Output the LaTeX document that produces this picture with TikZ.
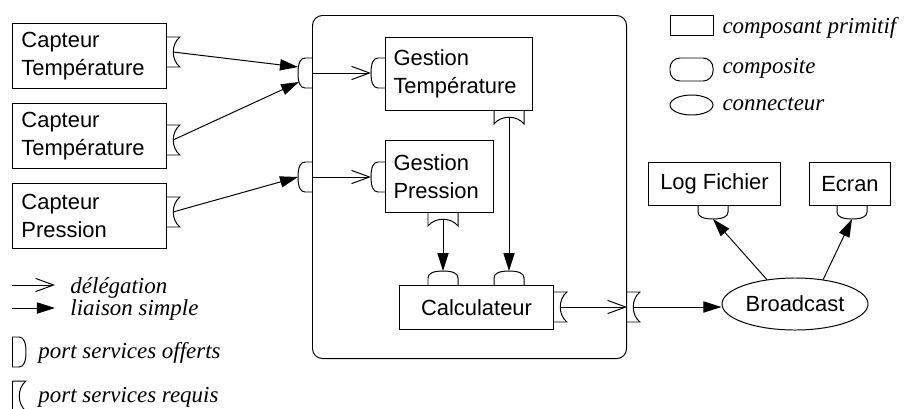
\documentclass[tikz,border=0pt]{standalone}
\usepackage{fontspec}
\setmainfont{Liberation Serif}
\setsansfont{Liberation Sans}
\usetikzlibrary{arrows.meta, shapes.geometric, calc}

\begin{document}
\begin{tikzpicture}[x=0.025cm, y=-0.025cm, line width=0.7pt,
    deleg/.style={-{Straight Barb[length=0.45cm, width=0.33cm]}},
    liaison/.style={-{Triangle[length=0.45cm, width=0.28cm]}},
    comp/.style={draw, rectangle, anchor=north west, inner xsep=0.2cm, inner ysep=0,
                 align=left, font=\sffamily\fontsize{15.6}{19.9}\selectfont},
    legende/.style={inner sep=0, anchor=base west, font=\rmfamily\itshape\fontsize{16.3}{19}\selectfont},
    requis/.pic={\draw (0,-15) -- (14,-15) .. controls (5,-8) and (5,8) .. (14,15) -- (0,15);
                 \coordinate (-tip) at (7,0);},
    offert/.pic={\draw (0,-15) -- (7,-15) .. controls (12,-15) and (14,-9) .. (14,0)
                 .. controls (14,9) and (12,15) .. (7,15) -- (0,15);
                 \coordinate (-tip) at (14,0);}]

    \useasboundingbox (0,0) rectangle (912,408);

    % ================= capteurs =================
    \node[comp, text width=3.4cm, inner xsep=0.225cm, minimum height=1.625cm] (ct1) at (12,23) {Capteur\\Température};
    \node[comp, text width=3.4cm, inner xsep=0.225cm, minimum height=1.625cm] (ct2) at (12,103) {Capteur\\Température};
    \node[comp, text width=3.4cm, inner xsep=0.225cm, minimum height=1.625cm] (ct3) at (12,183) {Capteur\\Pression};
    \pic (ct1p) at (166,52) {requis};
    \pic (ct2p) at (166,140) {requis};
    \pic (ct3p) at (166,212) {requis};

    % ================= composite =================
    \node[draw, rectangle, rounded corners=0.25cm, anchor=north west,
          minimum width=7.85cm, minimum height=8.575cm] (sys) at (312,15) {};
    \pic[rotate=180] (sysp1) at (312,73) {offert};
    \pic[rotate=180] (sysp2) at (312,177) {offert};
    \pic (sysr) at (626,307) {requis};

    % Gestion Temperature / Gestion Pression
    \node[comp, text width=3.275cm, minimum height=1.825cm] (gt) at (385,37) {Gestion\\Température};
    \node[comp, text width=2.3cm, minimum height=1.8cm] (gp) at (385,140) {Gestion\\Pression};
    \pic[rotate=180] (gtp) at (385,73) {offert};
    \pic[rotate=180] (gpp) at (385,177) {offert};
    \pic[rotate=-90] (gtr) at (509,110) {requis};
    \pic[rotate=-90] (gpr) at (443,212) {requis};

    % Calculateur
    \node[comp, align=center, minimum width=3.85cm, minimum height=1.1cm] (calc) at (399,285) {Calculateur};
    \pic[rotate=90] (calp1) at (443,285) {offert};
    \pic[rotate=90] (calp2) at (509,285) {offert};
    \pic (calr) at (553,307) {requis};

    % ================= sorties =================
    \node[draw, ellipse, minimum width=3.65cm, minimum height=1.3cm, inner sep=0,
          font=\sffamily\fontsize{15.6}{19.9}\selectfont] (bc) at (795,304) {Broadcast};
    \node[comp, align=center, minimum width=3.3cm, minimum height=1.075cm] (log) at (648,162) {Log Fichier};
    \node[comp, align=center, minimum width=2.025cm, minimum height=1.075cm] (ecran) at (809,162) {Ecran};
    \pic[rotate=-90] (logp) at (713,205) {offert};
    \pic[rotate=-90] (ecrp) at (852,205) {offert};

    % ================= liaisons =================
    \draw[liaison] (ct1p-tip) -- ($(sysp1-tip)+(0,-6)$);
    \draw[liaison] (ct2p-tip) -- ($(sysp1-tip)+(1,9)$);
    \draw[liaison] (ct3p-tip) -- (sysp2-tip);
    \draw[deleg] (sysp1-tip -| sys.west) -- (gtp-tip);
    \draw[deleg] (sysp2-tip -| sys.west) -- (gpp-tip);
    \draw[liaison] (gtr-tip) -- (calp2-tip);
    \draw[liaison] (gpr-tip) -- (calp1-tip);
    \draw[deleg] (calr-tip) -- (calr-tip -| sys.east);
    \draw[liaison] (sysr-tip) -- (bc.west |- sysr-tip);
    \draw[liaison] (bc.139) -- (logp-tip);
    \draw[liaison] (bc.41) -- (ecrp-tip);

    % ================= legende (haut) =================
    \node[draw, minimum width=1.075cm, minimum height=0.5cm, inner sep=0] (lgprim) at (691.5,25) {};
    \node[legende] (lgprimtxt) at (722,33) {composant primitif};
    \node[draw, rounded corners=0.25cm, minimum width=1.075cm, minimum height=0.575cm, inner sep=0] (lgcomp) at (691.5,69.5) {};
    \node[legende] (lgcomptxt) at (722,73) {composite};
    \node[draw, ellipse, minimum width=1.075cm, minimum height=0.5cm, inner sep=0] (lgconn) at (691.5,105) {};
    \node[legende] (lgconntxt) at (722,110) {connecteur};

    % ================= legende (bas) =================
    \coordinate (lgd0) at (12,285);
    \coordinate (lgd1) at (55,285);
    \draw[deleg] (lgd0) -- (lgd1);
    \node[legende] (lgdtxt) at (70,293) {délégation};
    \coordinate (lgl0) at (12,308);
    \coordinate (lgl1) at (55,308);
    \draw[liaison] (lgl0) -- (lgl1);
    \node[legende] (lglTxt) at (70,315) {liaison simple};
    \draw (12,337) -- (12,367);
    \pic (lgpo) at (12,352) {offert};
    \node[legende] (lgpotxt) at (38,358) {port services offerts};
    \draw (12,381) -- (12,411);
    \pic (lgpr) at (12,396) {requis};
    \node[legende] (lgprtxt) at (38,402) {port services requis};

\end{tikzpicture}
\end{document}
